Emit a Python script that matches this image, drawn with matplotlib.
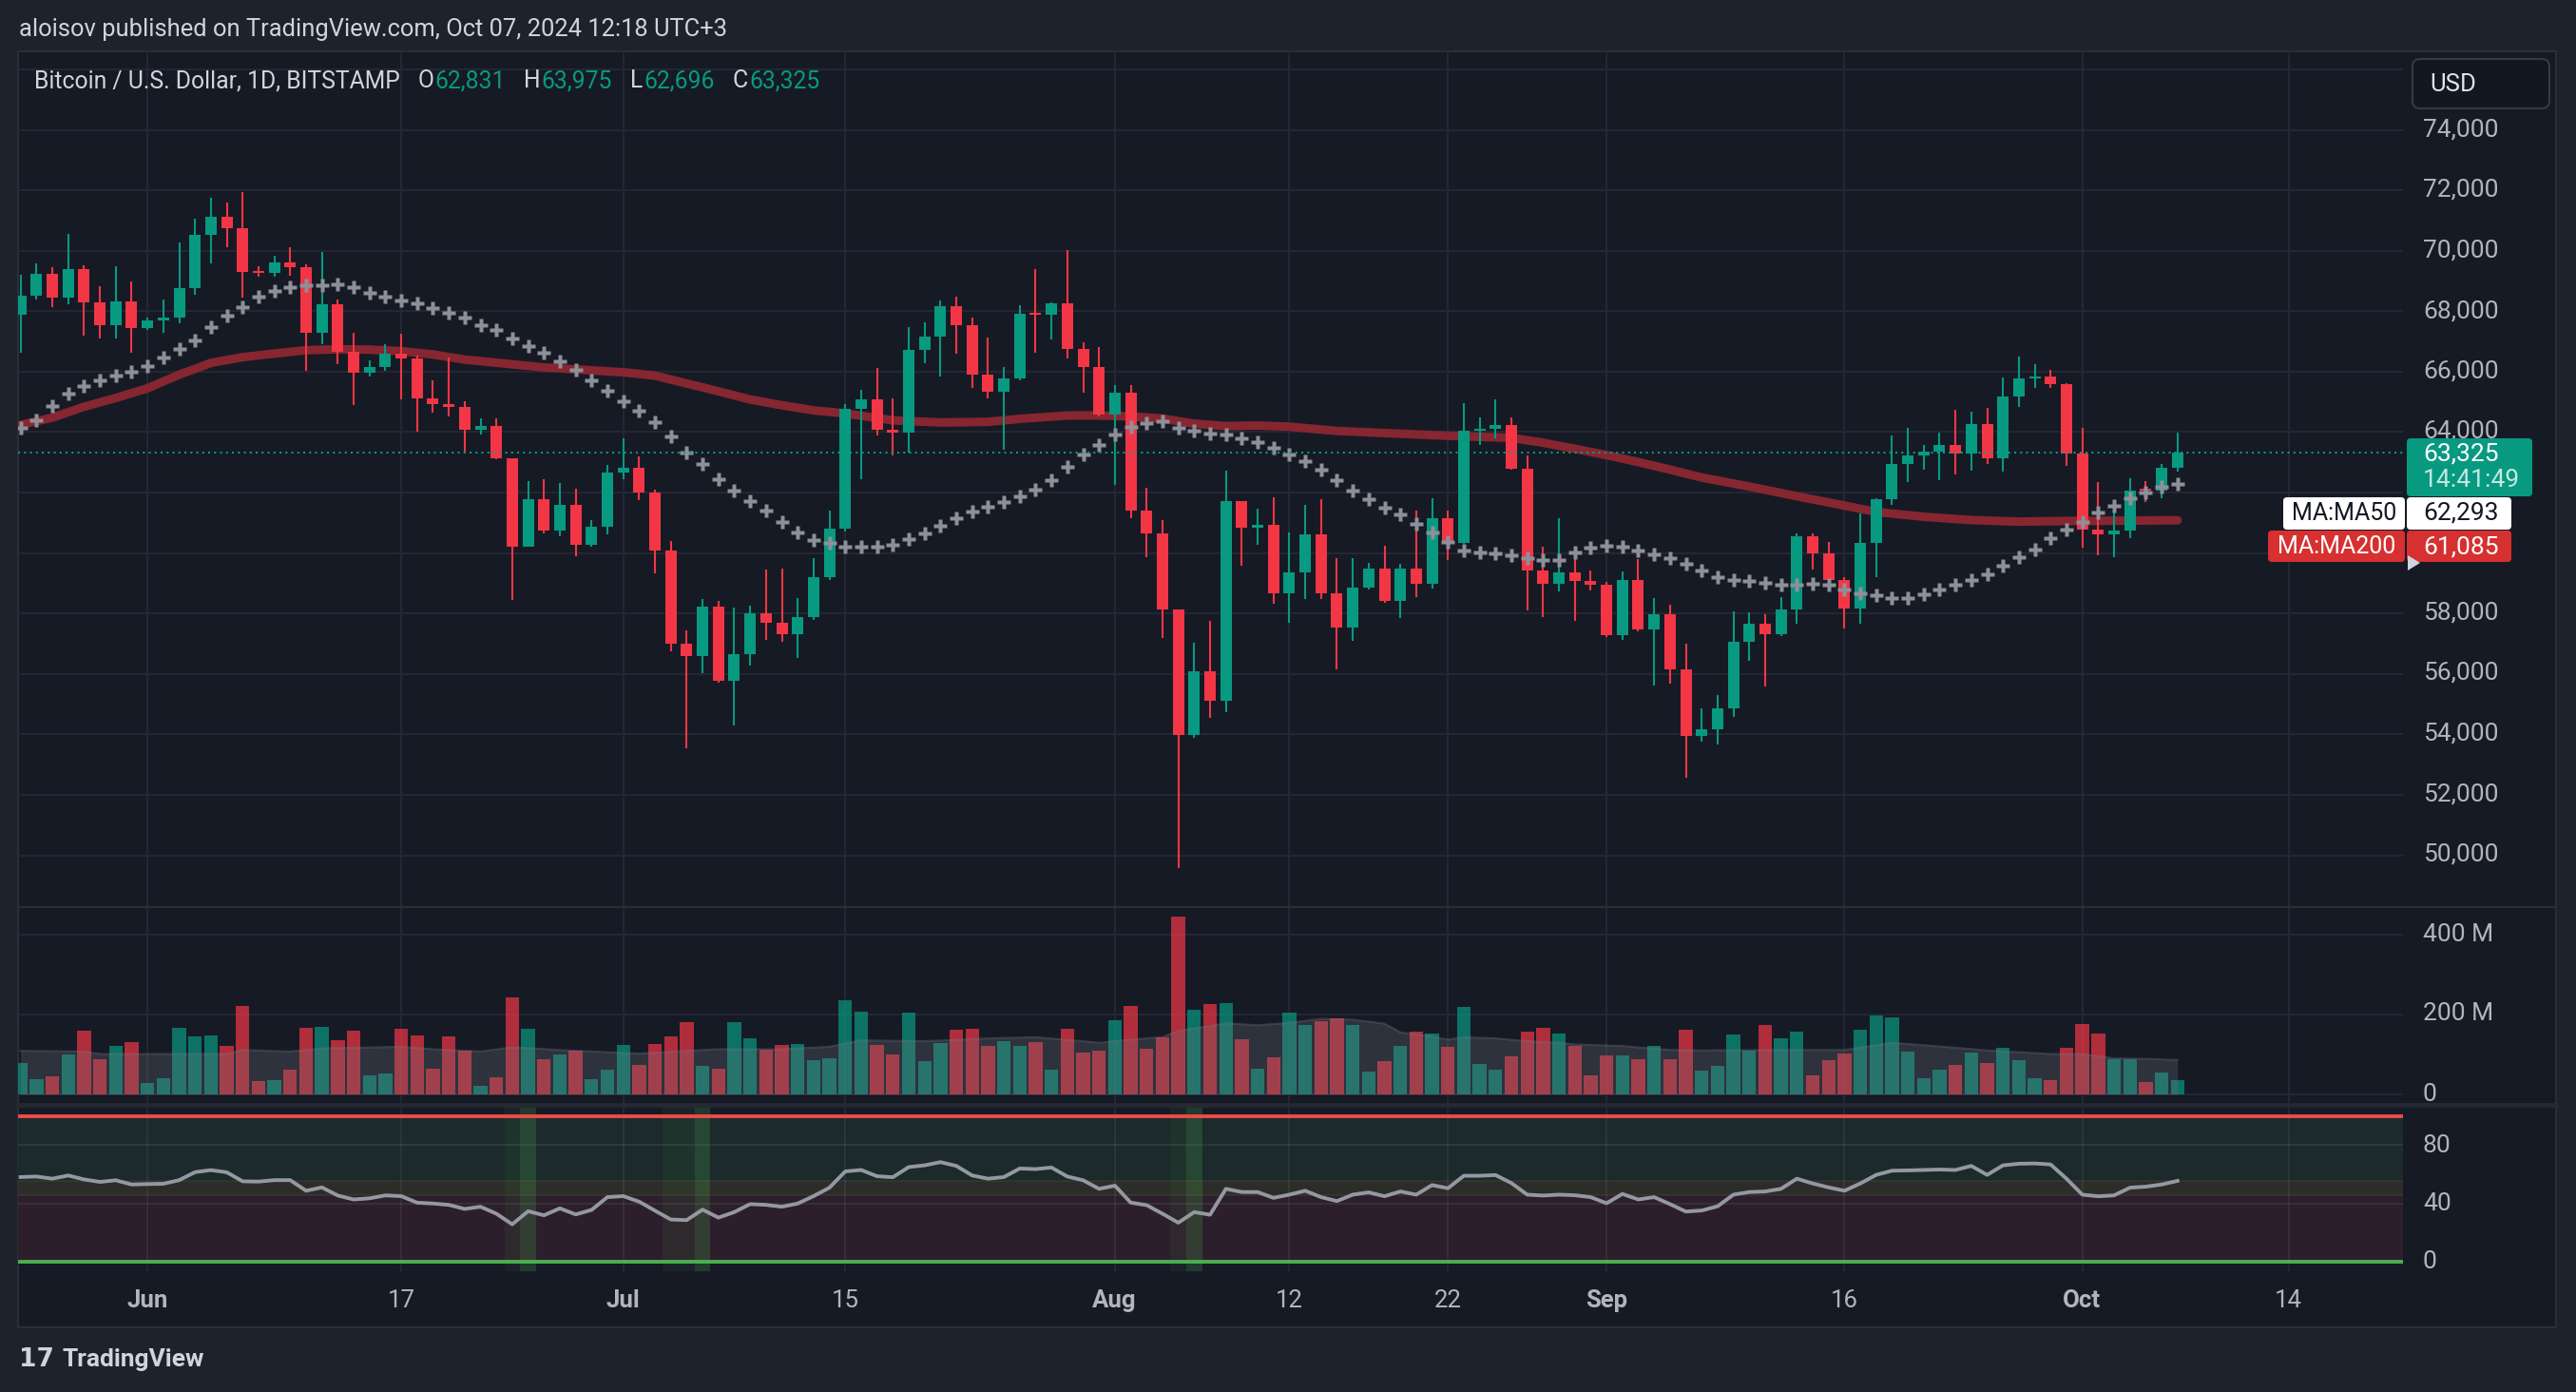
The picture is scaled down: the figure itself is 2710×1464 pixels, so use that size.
import numpy as np
import pandas as pd
import matplotlib
matplotlib.use("Agg")
import matplotlib.pyplot as plt
from matplotlib.patches import FancyBboxPatch, Polygon

plt.rcParams['font.family'] = ['Roboto', 'DejaVu Sans']

# ---- data (BTC/USD 1D, Bitstamp, 24 May - 7 Oct 2024) ----
start_date = "2024-05-24"
end_date = "2024-10-07"

opens = [67880, 68520, 69250, 68450, 69380, 68290, 67530, 68310, 67440, 67710,
         67780, 68780, 70540, 71110, 70740, 69300, 69280, 69620, 69450, 67280,
         68220, 66670, 65960, 66170, 66610, 66430, 65110, 64920, 64820, 64080,
         64210, 63130, 60220, 61790, 60750, 61600, 60280, 60870, 62670, 62820,
         61990, 60090, 57000, 56590, 58220, 55770, 56670, 58000, 57700, 57320,
         57870, 59190, 60810, 64760, 65070, 64080, 63980, 66710, 67160, 68160,
         67540, 65900, 65340, 65780, 67910, 67880, 68250, 66760, 66150, 64580,
         65300, 61410, 60640, 58130, 53990, 56080, 55100, 61710, 60830, 60920,
         58680, 59370, 60630, 58660, 57530, 58870, 59500, 58410, 59500, 58970,
         61160, 60340, 64050, 64100, 64230, 62800, 59410, 58990, 59370, 59090,
         58940, 57270, 59120, 57460, 57960, 56150, 53950, 54160, 54860, 57070,
         57670, 57300, 58140, 60540, 59980, 59100, 58170, 60320, 61780, 62940,
         63220, 63370, 63560, 63300, 64260, 63120, 65170, 65770, 65830, 65590,
         63300, 60760, 60620, 60730, 62080, 62060, 62831]
highs = [69220, 69570, 69470, 70570, 69510, 68840, 69500, 69000, 67800, 68400,
         70260, 71050, 71740, 71610, 71930, 69500, 69830, 70130, 69540, 69970,
         68390, 67290, 66390, 66900, 67240, 66540, 65700, 66470, 65010, 64470,
         64470, 63130, 62390, 62450, 62330, 62140, 61090, 62930, 63780, 63210,
         62100, 60400, 57450, 58470, 58410, 58190, 58250, 59450, 59480, 58510,
         59830, 61410, 64920, 65390, 66110, 65110, 67470, 67620, 68350, 68470,
         67790, 67120, 66150, 68200, 69390, 68300, 70010, 66970, 66800, 65570,
         65550, 62150, 61080, 58130, 57030, 57750, 62710, 61720, 61480, 61850,
         60690, 61600, 61790, 59840, 59840, 59690, 60250, 59630, 61410, 61820,
         61410, 64960, 64490, 65090, 64490, 63240, 60220, 61160, 59920, 59430,
         59050, 59400, 59810, 58520, 58300, 56990, 54850, 55310, 58080, 58040,
         57980, 58540, 60660, 60660, 60380, 59200, 61320, 61800, 63880, 64130,
         63560, 63970, 64730, 64670, 64790, 65820, 66490, 66240, 66050, 65620,
         64130, 62340, 61440, 62460, 62380, 62960, 63975]
lows = [66620, 68400, 68130, 68230, 67190, 67090, 67090, 66620, 67380, 67280,
        67600, 68540, 69580, 70110, 68450, 69150, 69150, 69170, 66040, 66920,
        66250, 64910, 65840, 66030, 65080, 64030, 64660, 64520, 63350, 63920,
        63100, 58450, 60220, 60660, 60570, 59900, 60200, 60630, 62450, 61740,
        59340, 56750, 53540, 56010, 55720, 54290, 56270, 57130, 57060, 56530,
        57800, 59100, 60700, 62430, 63890, 63220, 63320, 66280, 65850, 66600,
        65460, 65120, 63420, 65700, 66630, 67080, 66450, 65310, 64520, 62250,
        61160, 59860, 57190, 49590, 53900, 54560, 54750, 59580, 60260, 58310,
        57690, 58470, 58470, 56150, 57110, 58800, 58350, 57840, 58550, 58820,
        59780, 60300, 63580, 63810, 62750, 58090, 57870, 58730, 57740, 58750,
        57210, 57140, 57400, 55610, 55680, 52570, 53760, 53660, 54590, 56420,
        55580, 57250, 57650, 59450, 58730, 57490, 57650, 59190, 61600, 62340,
        62750, 62410, 62600, 62720, 62940, 62700, 64830, 65450, 65450, 62880,
        60170, 59930, 59850, 60490, 61700, 61810, 62696]
closes = [68520, 69250, 68450, 69380, 68290, 67530, 68310, 67440, 67710, 67780,
          68780, 70540, 71110, 70740, 69300, 69280, 69620, 69450, 67280, 68220,
          66670, 65960, 66170, 66610, 66430, 65110, 64920, 64820, 64080, 64210,
          63130, 60220, 61790, 60750, 61600, 60280, 60870, 62670, 62820, 61990,
          60090, 57000, 56590, 58220, 55770, 56670, 58000, 57700, 57320, 57870,
          59190, 60810, 64760, 65070, 64080, 63980, 66710, 67160, 68160, 67540,
          65900, 65340, 65780, 67910, 67880, 68250, 66760, 66150, 64580, 65300,
          61410, 60640, 58130, 53990, 56080, 55100, 61710, 60830, 60920, 58680,
          59370, 60630, 58660, 57530, 58870, 59500, 58410, 59500, 58970, 61160,
          60340, 64050, 64100, 64230, 62800, 59410, 58990, 59370, 59090, 58940,
          57270, 59120, 57460, 57960, 56150, 53950, 54160, 54860, 57070, 57670,
          57300, 58140, 60540, 59980, 59100, 58170, 60320, 61780, 62940, 63220,
          63370, 63560, 63300, 64260, 63120, 65170, 65770, 65830, 65590, 63300,
          60760, 60620, 60730, 62080, 62060, 62831, 63325]

# volume, millions
volume = [78, 37, 44, 99, 159, 88, 121, 130, 28, 40, 166, 144, 147, 121, 221,
          33, 35, 61, 166, 168, 135, 159, 47, 52, 163, 147, 63, 144, 109, 21,
          42, 242, 163, 87, 99, 109, 37, 61, 123, 73, 125, 144, 180, 71, 63,
          180, 140, 111, 123, 125, 85, 90, 235, 206, 123, 99, 204, 83, 128, 161,
          163, 121, 133, 121, 130, 61, 163, 104, 109,
          185, 221, 113, 142, 444, 211, 225, 228, 137, 63, 92, 204, 173, 183, 190,
          173, 56, 83, 121, 156, 152, 118, 218, 75, 61, 94, 156, 166, 152, 121,
          47, 97, 97, 87, 121, 87, 161, 59, 71, 149, 109, 173, 140, 156, 47,
          85, 102, 161, 197, 192, 106, 40, 61, 73, 104, 78, 116, 85, 40, 35,
          116, 175, 152, 87, 87, 30, 54, 35]

# volume moving average (grey area), sampled at bar index
vol_ma_idx = [0, 4, 5, 13, 14, 17, 19, 24, 26, 29, 31, 34, 39, 44, 48, 51, 53, 57,
              61, 64, 67, 68, 70, 72, 73, 75, 76, 78, 80, 82, 84, 86, 87, 89, 90,
              91, 93, 95, 97, 98, 101, 104, 106, 110, 115, 117, 118, 121, 124, 128,
              130, 132, 134, 136]
vol_ma_val = [109, 107, 101, 101, 111, 107, 115, 119, 113, 107, 118, 111, 102, 113,
              113, 119, 135, 133, 140, 143, 133, 129, 137, 143, 159, 171, 178, 173,
              179, 189, 187, 177, 155, 145, 137, 143, 140, 133, 129, 125, 121, 111,
              110, 111, 111, 123, 129, 120, 110, 101, 101, 90, 89, 86]

ma50 = [64140, 64400, 64850, 65260, 65540, 65710, 65860, 66010, 66200, 66470,
        66750, 67050, 67470, 67840, 68150, 68480, 68670, 68810, 68850, 68860,
        68890, 68790, 68600, 68470, 68370, 68260, 68100, 67960, 67790,
        67530, 67390, 67100, 66860, 66620, 66350, 66050, 65710, 65360, 65020,
        64710, 64330, 63850, 63320, 62940, 62450, 62050, 61710, 61390, 61040,
        60690, 60440, 60320, 60220, 60220,
        60220, 60270, 60450, 60660, 60900, 61150, 61370, 61540, 61680, 61890,
        62090, 62400, 62840, 63250, 63570, 63920, 64180, 64300, 64360, 64140,
        64040, 63960, 63910, 63800, 63660,
        63480, 63270, 63030, 62770, 62400, 62050, 61770, 61490, 61270, 60950,
        60670, 60360, 60090, 60010, 59990, 59920, 59830, 59760, 59760, 60030,
        60170, 60230, 60200, 60090, 59960, 59820, 59630, 59410,
        59200, 59120, 59070, 59000, 58940, 58950, 58970, 58940, 58780, 58680,
        58590, 58520, 58520, 58630, 58780, 58940, 59100, 59290, 59570, 59860,
        60130, 60480, 60770, 61040, 61340, 61570, 61800, 62000, 62180, 62293]

ma200_idx = [0, 2, 4, 6, 8, 10, 12, 14, 16, 18, 20, 22, 24, 26, 28, 33, 38, 40, 42,
             44, 46, 48, 50, 52, 55, 58, 61, 63, 66, 68, 70, 72, 74, 76, 78, 80, 83,
             86, 90, 94, 96, 98, 100, 102, 104, 106, 109, 112, 115, 117, 120, 123,
             126, 129, 132, 136]
ma200_val = [64240, 64480, 64840, 65130, 65450, 65900, 66290, 66480, 66600, 66710,
             66740, 66730, 66680, 66570, 66400, 66140, 65980, 65870, 65610, 65350,
             65080, 64890, 64720, 64620, 64390, 64320, 64340, 64440, 64550, 64550,
             64520, 64450, 64280, 64200, 64220, 64180, 64040, 63970, 63880, 63810,
             63650, 63450, 63240, 63010, 62760, 62500, 62200, 61880, 61570, 61360,
             61200, 61090, 61040, 61060, 61070, 61085]

rsi = [58.1, 58.5, 57, 59.2, 56.5, 54.8, 55.9, 53, 53.3, 53.5,
       56, 61.5, 62.9, 61.4, 55.2, 55, 56, 56, 48.7, 51,
       45.4, 42.7, 43.5, 45.5, 45, 40.5, 39.9, 39, 36.2, 37.7,
       32.9, 25.6, 34.6, 31.8, 36.6, 32.4, 35.5, 44.3, 45, 41.2,
       35, 28.9, 28.5, 35.7, 30.2, 34, 39.5, 39, 37.7, 39.9,
       45, 50.8, 62, 63, 58.7, 58, 65, 66.2, 68.4, 65.8,
       59.2, 57, 58.1, 64, 63.6, 64.7, 58.5, 55.9, 50, 52.2,
       40.5, 38.8, 32.9, 26.7, 34, 32.2, 50, 47.8, 47.8, 43.8,
       46, 48.7, 44.3, 41.6, 46, 47.6, 44.9, 48.2, 46, 52.6,
       50.4, 59, 59, 59.5, 54, 46, 45.4, 46, 45.6, 44.3,
       40.1, 46.5, 42.7, 44.3, 39.5, 34.4, 35.1, 38, 46, 47.8,
       48.2, 50, 57, 53.7, 51, 48.7, 53.7, 59.6, 62.5, 62.7,
       63, 63.3, 63, 65.8, 59.6, 66.2, 67.3, 67.5, 66.8, 57,
       46, 44.9, 45.5, 50.8, 51.5, 53, 55.5]
# shaded signal bars in the lower pane
signal_strong = [32, 43, 74]
signal_weak = [31, 41, 42, 73]

tick_dates = ["2024-06-01", "2024-06-17", "2024-07-01", "2024-07-15", "2024-08-01",
              "2024-08-12", "2024-08-22", "2024-09-01", "2024-09-16", "2024-10-01",
              "2024-10-14"]
tick_labels = ["Jun", "17", "Jul", "15", "Aug", "12", "22", "Sep", "16", "Oct", "14"]
month_labels = ["Jun", "Jul", "Aug", "Sep", "Oct"]

price_ticks = list(range(50000, 76001, 2000))
# these two sit behind the MA / price tags on the scale
hidden_ticks = [60000, 62000]
last_price = 63325

# ---- colours ----
GREEN = '#089981'
RED = '#f23645'
BG = '#161a25'
OUTER = '#1e222d'
GRID = '#252834'
TXT = '#b2b5be'
BORDER = '#2a2e39'

W, H = 2710, 1464
fig = plt.figure(figsize=(W / 100, H / 100), dpi=100)
fig.patch.set_facecolor(OUTER)


def px_axes(x0, y0, x1, y1, z=1):
    # pixel box (y measured from top of image)
    a = fig.add_axes([x0 / W, 1 - y1 / H, (x1 - x0) / W, (y1 - y0) / H], zorder=z)
    a.set_facecolor('none')
    a.set_axis_off()
    return a


# background frame
bg = px_axes(0, 0, W, H, z=0)
bg.set_xlim(0, W)
bg.set_ylim(H, 0)
bg.add_patch(plt.Rectangle((19, 54), 2689 - 19, 1396 - 54, facecolor=BG,
                           edgecolor=BORDER, lw=1.5))

n = len(closes)
x = np.arange(n)
start = pd.Timestamp(start_date)
tick_idx = [(pd.Timestamp(d) - start).days for d in tick_dates]
XL = (-0.16, 150.22)
up = np.array(closes) >= np.array(opens)
cols = np.where(up, GREEN, RED)

# ---- price pane ----
ax = px_axes(19, 54, 2528, 954)
ax.set_xlim(*XL)
ax.set_ylim(48287, 76598)
for p in price_ticks:
    ax.axhline(p, color=GRID, lw=1.4, zorder=0)
for t in tick_idx:
    ax.axvline(t, color=GRID, lw=1.4, zorder=0)

ax.plot(ma200_idx, ma200_val, color='#862630', lw=6.5, solid_capstyle='round',
        solid_joinstyle='round', zorder=2)
ax.vlines(x, lows, highs, colors=cols, lw=1.5, zorder=3)
body_lo = np.minimum(opens, closes)
body_h = np.maximum(np.abs(np.array(closes) - np.array(opens)), 60)
ax.bar(x, body_h, bottom=body_lo, width=0.72, color=cols, zorder=3)
ax.plot(x, ma50, ls='none', marker='P', ms=9.5, color='#8e9099', mec='none', zorder=4)
ax.axhline(last_price, color=GREEN, lw=1.5, ls=(0, (1, 2)), zorder=5)

# ---- volume pane ----
axv = px_axes(19, 954, 2528, 1160)
axv.set_xlim(*XL)
axv.set_ylim(-21.6, 469)
for v in [0, 200, 400]:
    axv.axhline(v, color=GRID, lw=1.4, zorder=0)
for t in tick_idx:
    axv.axvline(t, color=GRID, lw=1.4, zorder=0)
axv.bar(x, volume, width=0.86, color=cols, alpha=0.7, zorder=2)
axv.fill_between(vol_ma_idx, 0, vol_ma_val, color='#787b86', alpha=0.25, lw=0, zorder=3)
axv.plot(vol_ma_idx, vol_ma_val, color='#787b86', alpha=0.35, lw=1.5, zorder=3)

# ---- oscillator pane ----
axr = px_axes(19, 1164, 2528, 1337)
axr.set_xlim(*XL)
axr.set_ylim(-6.7, 106.5)
axr.axhspan(0, 45.4, color='#2c1f2b', lw=0, zorder=0)
axr.axhspan(45.4, 55.5, color='#2c2d28', lw=0, zorder=0)
axr.axhspan(55.5, 100, color='#1c2a2b', lw=0, zorder=0)
for t in tick_idx:
    axr.axvline(t, color='#ffffff', alpha=0.06, lw=1.4, zorder=1)
for g in [40, 80]:
    axr.axhline(g, color='#ffffff', alpha=0.07, lw=1.4, zorder=1)
for g in [45.4, 55.5]:
    axr.axhline(g, color='#ffffff', alpha=0.05, lw=1.4, zorder=1)
for s in signal_weak:
    axr.axvspan(s - 0.5, s + 0.5, color='#4caf50', alpha=0.07, lw=0, zorder=1)
for s in signal_strong:
    axr.axvspan(s - 0.5, s + 0.5, color='#4caf50', alpha=0.22, lw=0, zorder=1)
axr.axhline(100, color='#f04a48', lw=2.8, zorder=2)
axr.axhline(0, color='#4caf50', lw=2.8, zorder=2)
axr.plot(x, rsi, color='#9598a1', lw=2.8, zorder=3)

# ---- overlay: texts, scales, labels ----
ov = px_axes(0, 0, W, H, z=10)
ov.set_xlim(0, W)
ov.set_ylim(H, 0)


def x_px(i):
    return 21.7 + i * 16.68


def y_px(p):
    return 136.5 + (74000 - p) / 1000 * 31.75


ov.plot([19, 2689], [954, 954], color=BORDER, lw=1.5)
ov.plot([19, 2689], [1162, 1162], color='#252934', lw=3.5)

ov.text(20, 31, "aloisov published on TradingView.com, Oct 07, 2024 12:18 UTC+3",
        color='#d1d4dc', fontsize=18.4, va='center')

# legend line with OHLC
prev = ov.text(36, 85, "Bitcoin / U.S. Dollar, 1D, BITSTAMP", color='#d1d4dc',
               fontsize=17.8, va='center')
legend_vals = [("O", "62,831"), ("H", "63,975"), ("L", "62,696"), ("C", "63,325")]
for k, v in legend_vals:
    prev = ov.annotate(k, xy=(1, 0), xycoords=prev, xytext=(19, 0),
                       textcoords='offset pixels', color='#d1d4dc', fontsize=17.8,
                       va='bottom')
    prev = ov.annotate(v, xy=(1, 0), xycoords=prev, xytext=(1, 0),
                       textcoords='offset pixels', color=GREEN, fontsize=17.8,
                       va='bottom')

# price scale
for p in price_ticks[:-1]:
    if p in hidden_ticks:
        continue
    ov.text(2549, y_px(p), f"{p:,}", color=TXT, fontsize=19, va='center')
for v, lab in [(983, "400 M"), (1066, "200 M"), (1151, "0")]:
    ov.text(2549, v, lab, color=TXT, fontsize=19, va='center')
for v, lab in [(1204.5, "80"), (1265.7, "40"), (1326.7, "0")]:
    ov.text(2549, v, lab, color=TXT, fontsize=19, va='center')

# time axis
for t, lab in zip(tick_idx, tick_labels):
    ov.text(x_px(t), 1368, lab, color=TXT, fontsize=18.5, ha='center', va='center',
            fontweight='bold' if lab in month_labels else 'normal')


def box(x0, y0, x1, y1, fc, ec='none', lw=0, r=4):
    ov.add_patch(FancyBboxPatch((x0, y0), x1 - x0, y1 - y0,
                                boxstyle=f"round,pad=0,rounding_size={r}",
                                fc=fc, ec=ec, lw=lw, zorder=11))


box(2538, 62, 2682, 114, '#131722', ec='#363a45', lw=1.5, r=8)
ov.text(2556, 89, "USD", color='#e0e3eb', fontsize=18.5, va='center', zorder=12)

box(2532, 461, 2664, 522, GREEN)
ov.text(2549, 477, f"{last_price:,}", color='white', fontsize=19, va='center', zorder=12)
ov.text(2549, 505, "14:41:49", color='#c5e8e1', fontsize=19, va='center', zorder=12)

box(2402, 523, 2530, 557, 'white')
box(2532, 523, 2642, 557, 'white')
ov.text(2466, 540, "MA:MA50", color='#131722', fontsize=18, ha='center', va='center', zorder=12)
ov.text(2549, 540, f"{ma50[-1]:,}", color='#131722', fontsize=19, va='center', zorder=12)

box(2386, 558, 2530, 591, '#d63030')
box(2532, 558, 2642, 591, '#d63030')
ov.text(2458, 575, "MA:MA200", color='white', fontsize=18, ha='center', va='center', zorder=12)
ov.text(2549, 575, f"{ma200_val[-1]:,}", color='white', fontsize=19, va='center', zorder=12)
ov.add_patch(Polygon([[2533, 584], [2546, 592], [2533, 600]], closed=True,
                     fc='#d1d4dc', ec='none', zorder=12))

# logo
ov.text(20, 1430, "17", color='#d1d4dc', fontsize=19, fontweight='bold', va='center',
        family=['DejaVu Sans'])
ov.text(66, 1430, "TradingView", color='#d1d4dc', fontsize=19, fontweight='bold',
        va='center')

fig.savefig("out.png", dpi=100, facecolor=fig.get_facecolor())
